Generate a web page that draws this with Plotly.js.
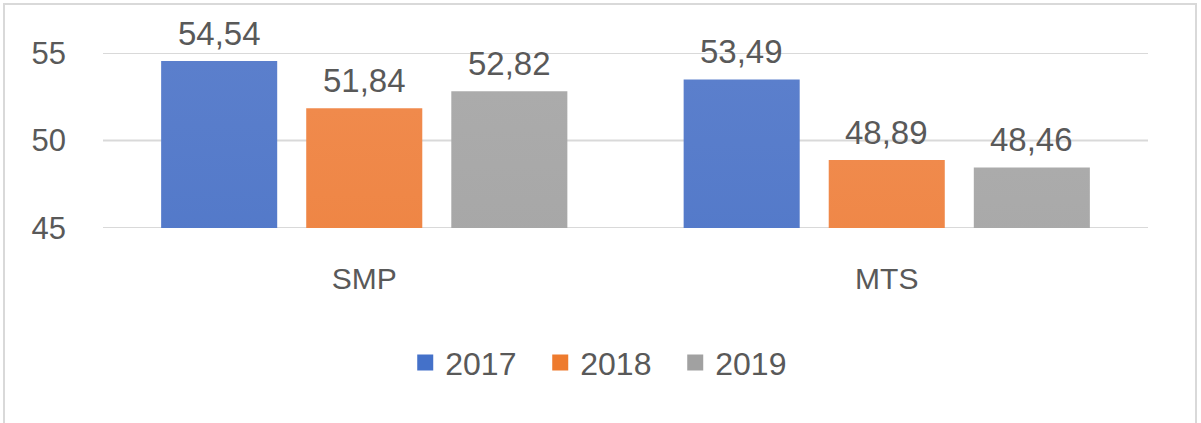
<!DOCTYPE html>
<html>
<head>
<meta charset="utf-8">
<script src="https://cdn.plot.ly/plotly-3.0.1.min.js"></script>
<style>
  html, body { margin: 0; padding: 0; background: #ffffff; overflow: hidden; }
  #wrap { position: relative; width: 1201px; height: 423px; overflow: hidden; }
  #chart { width: 1201px; height: 423px; }
  #frame { position: absolute; left: 3px; top: 3px; width: 1190px; height: 430px;
           border: 2px solid #d9d9d9; pointer-events: none; }
</style>
</head>
<body>
<div id="wrap">
  <div id="chart"></div>
  <div id="frame"></div>
</div>
<script>
const categories = ["SMP", "MTS"];
const seriesNames = ["2017", "2018", "2019"];
const values2017 = [54.54, 53.49];
const values2018 = [51.84, 48.89];
const values2019 = [52.82, 48.46];
const yTicks = [45, 50, 55];

const seriesValues = [values2017, values2018, values2019];
const solidColors = ["#4471c9", "#ee7b2e", "#a1a1a1"];
const gradStops = [["#5b7fcc", "#3060bd"], ["#f08a4c", "#e56a18"], ["#ababab", "#929292"]];

const fontFam = '"Liberation Sans", Arial, sans-serif';
const textColor = "#595959";
const BARGAP = 0.167;
const BARGROUPGAP = 0.2;

const traces = [];
seriesNames.forEach((name, i) => {
  traces.push({
    type: "bar",
    name: name,
    x: categories,
    y: seriesValues[i],
    marker: { color: solidColors[i] },
    showlegend: false,
    hoverinfo: "x+y+name"
  });
});
seriesNames.forEach((name, i) => {
  traces.push({
    type: "scatter",
    mode: "markers",
    name: name,
    x: [null],
    y: [null],
    marker: { symbol: "square", size: 19, color: solidColors[i] },
    showlegend: true
  });
});

// data labels: anchored at each bar's top (value), offset within group by slot
const slot = (1 - BARGAP) / seriesNames.length;
const annotations = [];
seriesValues.forEach((vals, i) => {
  vals.forEach((v, c) => {
    annotations.push({
      xref: "x", yref: "y",
      x: c + (i - (seriesNames.length - 1) / 2) * slot,
      y: v,
      text: v.toFixed(2).replace(".", ","),
      showarrow: false,
      xanchor: "center",
      yanchor: "bottom",
      yshift: 7,
      font: { family: fontFam, size: 33, color: textColor }
    });
  });
});

const shapes = yTicks.map(t => ({
  type: "line", xref: "paper", yref: "y",
  x0: 0, x1: 1, y0: t, y1: t,
  line: { color: "#d9d9d9", width: 2 },
  layer: "below"
}));

const layout = {
  width: 1201,
  height: 423,
  margin: { l: 103, r: 53, t: 53, b: 195 },
  paper_bgcolor: "#ffffff",
  plot_bgcolor: "#ffffff",
  barmode: "group",
  bargap: BARGAP,
  bargroupgap: BARGROUPGAP,
  font: { family: fontFam, color: textColor },
  xaxis: {
    type: "category",
    showgrid: false,
    showline: false,
    zeroline: false,
    ticks: "",
    tickfont: { family: fontFam, size: 30, color: textColor },
    ticklabelstandoff: 30
  },
  yaxis: {
    range: [45, 55],
    tickvals: yTicks,
    showgrid: false,
    zeroline: false,
    showline: false,
    ticks: "",
    tickfont: { family: fontFam, size: 31, color: textColor },
    ticklabelstandoff: 36
  },
  shapes: shapes,
  annotations: annotations,
  legend: {
    orientation: "h",
    x: 0.483,
    xanchor: "center",
    y: -0.77,
    yanchor: "middle",
    entrywidth: 90,
    entrywidthmode: "pixels",
    font: { family: fontFam, size: 32, color: textColor },
    itemclick: false
  },
  showlegend: true
};

Plotly.newPlot("chart", traces, layout, { displayModeBar: false, responsive: false }).then(gd => {
  const svg = gd.querySelector("svg.main-svg");
  const ns = "http://www.w3.org/2000/svg";
  let defs = svg.querySelector("defs");
  if (!defs) { defs = document.createElementNS(ns, "defs"); svg.insertBefore(defs, svg.firstChild); }
  gradStops.forEach((stops, i) => {
    const g = document.createElementNS(ns, "linearGradient");
    g.setAttribute("id", "barGrad" + i);
    g.setAttribute("x1", "0"); g.setAttribute("y1", "0");
    g.setAttribute("x2", "0"); g.setAttribute("y2", "1");
    [[0, stops[0]], [1, stops[1]]].forEach(([off, col]) => {
      const s = document.createElementNS(ns, "stop");
      s.setAttribute("offset", off);
      s.setAttribute("stop-color", col);
      g.appendChild(s);
    });
    defs.appendChild(g);
  });
  const barTraces = gd.querySelectorAll(".barlayer .trace");
  barTraces.forEach((tr, i) => {
    tr.querySelectorAll("path").forEach(p => { p.style.fill = "url(#barGrad" + i + ")"; });
  });
});
</script>
</body>
</html>
